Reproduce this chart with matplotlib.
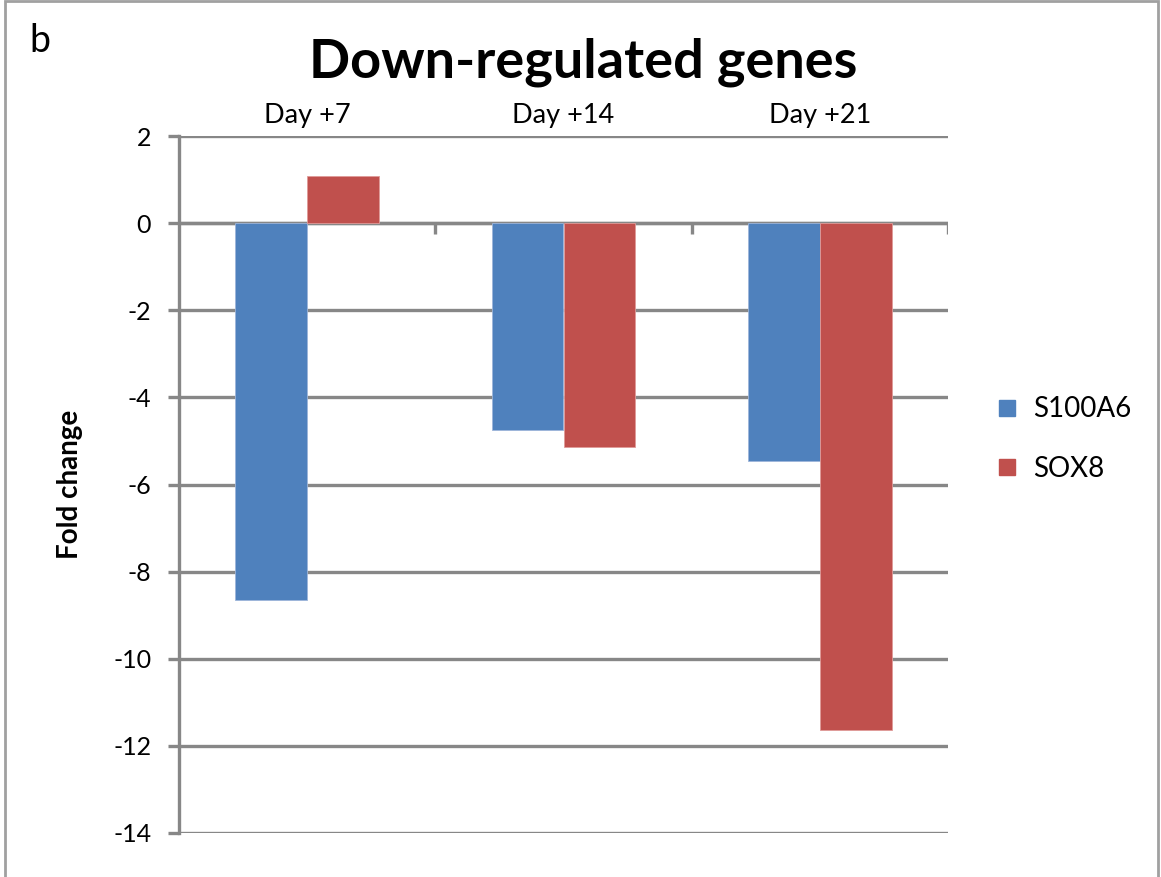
import matplotlib
matplotlib.use("Agg")
import matplotlib.pyplot as plt
from matplotlib.patches import Rectangle
from matplotlib.lines import Line2D
import numpy as np

categories = ["Day +7", "Day +14", "Day +21"]
series_names = ["S100A6", "SOX8"]
s100a6 = [-8.65, -4.75, -5.45]
sox8 = [1.08, -5.13, -11.63]
yticks = [2, 0, -2, -4, -6, -8, -10, -12, -14]

plt.rcParams['font.family'] = ['Lato', 'DejaVu Sans']

W, H = 1161, 877
fig = plt.figure(figsize=(W / 100, H / 100), dpi=100)
ax = fig.add_axes([179 / W, 1 - 833 / H, (948 - 179) / W, (833 - 136) / H])

blue = "#4F81BD"
red = "#C0504D"
grey = "#878787"
x = np.arange(len(categories))
w = 0.28
ax.bar(x - w / 2, s100a6, w, color=blue, edgecolor="#9DB5DA", linewidth=0.6, label=series_names[0], zorder=3)
ax.bar(x + w / 2, sox8, w, color=red, edgecolor="#E09A98", linewidth=0.6, label=series_names[1], zorder=3)

ax.set_xlim(-0.5, len(categories) - 0.5)
ax.set_ylim(min(yticks), max(yticks))
ax.set_yticks(yticks)
ax.set_yticklabels([str(t) for t in yticks], fontsize=18)
ax.yaxis.grid(True, color=grey, linewidth=2.4, zorder=1)
ax.tick_params(axis="y", length=8, width=2.4, color=grey, pad=12)

ax.xaxis.tick_top()
ax.set_xticks(x)
ax.set_xticklabels(categories, fontsize=19.5)
ax.tick_params(axis="x", length=0, pad=6)

for s in ["top", "right", "bottom"]:
    ax.spines[s].set_visible(False)
ax.spines["left"].set_color(grey)
ax.spines["left"].set_linewidth(2.4)
ax.axhline(0, color=grey, linewidth=2.4, zorder=2)
ax.vlines(x + 0.5, -0.26, 0, color=grey, linewidth=2.4, zorder=2)

ax.set_ylabel("Fold change", fontsize=20, fontweight="bold", labelpad=22)

fig.text(583 / W, 1 - 62 / H, "Down-regulated genes", ha="center", va="center",
         fontsize=39, fontweight="bold")
fig.text(29 / W, 1 - 41 / H, "b", ha="left", va="center", fontsize=27)

handles = [Line2D([], [], marker="s", linestyle="none", markersize=11, color=blue),
           Line2D([], [], marker="s", linestyle="none", markersize=11, color=red)]
fig.legend(handles, series_names, loc="center left", bbox_to_anchor=(968 / W, 1 - 439 / H),
           frameon=False, fontsize=20, handletextpad=0.45, labelspacing=1.2, handlelength=1.0)

fig.patches.append(Rectangle((5 / W, -0.01), (1158 - 5) / W, 1.01 - 1.5 / H, transform=fig.transFigure,
                             fill=False, edgecolor="#A0A0A0", linewidth=2))

fig.savefig("out.png", dpi=100)
